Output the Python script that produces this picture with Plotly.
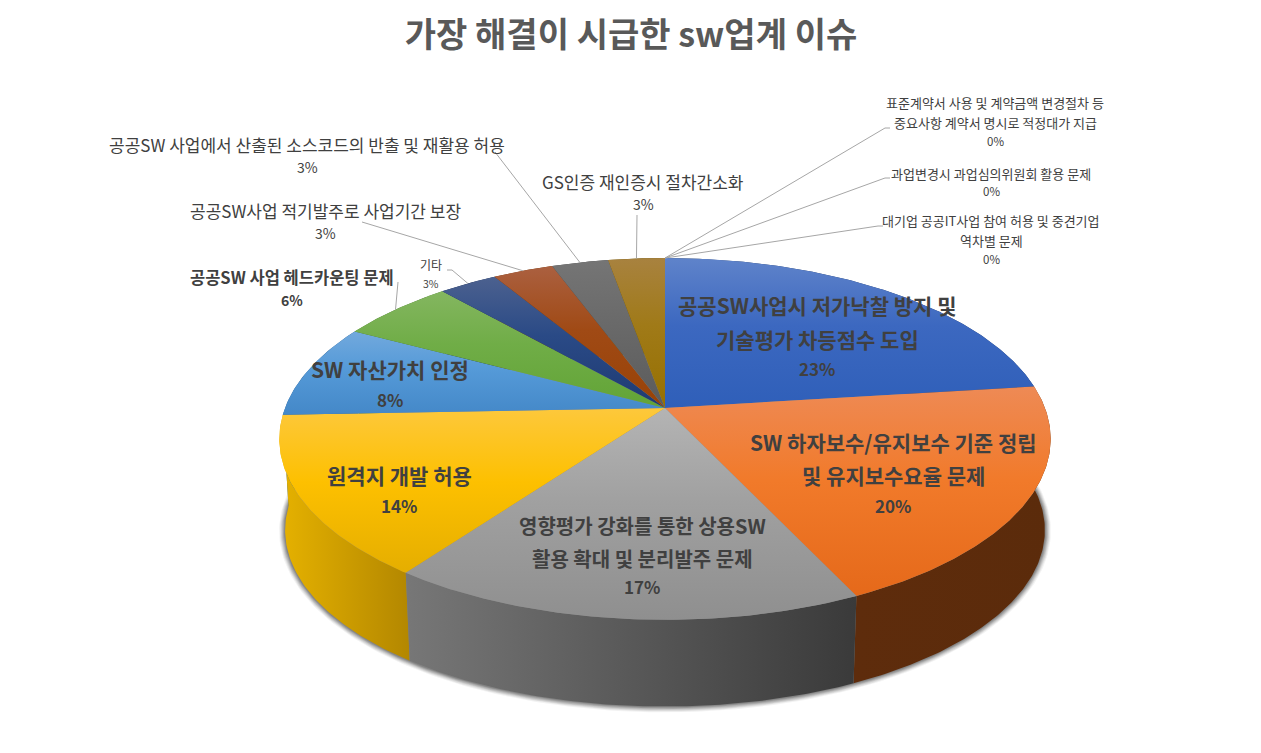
import numpy as np
import plotly.graph_objects as go

# ---------- data ----------
categories = [
    ["공공SW사업시 저가낙찰 방지 및", "기술평가 차등점수 도입"],
    ["SW 하자보수/유지보수 기준 정립", "및 유지보수요율 문제"],
    ["영향평가 강화를 통한 상용SW", "활용 확대 및 분리발주 문제"],
    ["원격지 개발 허용"],
    ["SW 자산가치 인정"],
    ["공공SW 사업 헤드카운팅 문제"],
    ["기타"],
    ["공공SW사업 적기발주로 사업기간 보장"],
    ["공공SW 사업에서 산출된 소스코드의 반출 및 재활용 허용"],
    ["GS인증 재인증시 절차간소화"],
    ["표준계약서 사용 및 계약금액 변경절차 등", "중요사항 계약서 명시로 적정대가 지급"],
    ["과업변경시 과업심의위원회 활용 문제"],
    ["대기업 공공IT사업 참여 허용 및 중견기업", "역차별 문제"],
]
values = [23.0, 20.0, 17.0, 14.4, 8.4, 5.7, 2.9, 3.0, 2.8, 2.8, 0.0, 0.0, 0.0]
title_text = "가장 해결이 시급한 sw업계 이슈"

# ---------- styles ----------
top_colors = [
    ["#5f83ca", "#3c68c0", "#2f5fb9"],
    ["#ee8a55", "#f17a2a", "#e5691a"],
    ["#b4b4b4", "#a0a0a0", "#8f8f8f"],
    ["#fdc83c", "#fdc000", "#e5ae00"],
    ["#72a9dd", "#559ad8", "#4488c8"],
    ["#84b660", "#70ad47", "#62a436"],
    ["#4c618f", "#2a4a86", "#1e3a72"],
    ["#ab6040", "#a04a15", "#984206"],
    ["#757575", "#696969", "#5b5b5b"],
    ["#a8823f", "#a07a18", "#967000"],
]
wall_colors = [
    ["#1f3864", "#1f3864"],
    ["#5e2c0c", "#5b2b0b"],
    ["#777777", "#3a3a3a"],
    ["#e6b200", "#b38700"],
    ["#2a5f8f", "#2a5f8f"],
    ["#3f6a28", "#3f6a28"],
    ["#14264e", "#14264e"],
    ["#6a3004", "#6a3004"],
    ["#404040", "#404040"],
    ["#6a5000", "#6a5000"],
]
label_styles = [
    dict(x=817, ys=[305, 339, 368], size=21, pct=17, bold=True),
    dict(x=893, ys=[442, 475, 505], size=21, pct=17, bold=True),
    dict(x=642, ys=[525, 558, 586], size=20, pct=17, bold=True),
    dict(x=399, ys=[475, 505], size=21, pct=17, bold=True),
    dict(x=390, ys=[369, 399], size=21, pct=17, bold=True),
    dict(x=292, ys=[277, 300], size=16.5, pct=14, bold=True),
    dict(x=431, ys=[264, 283], size=12, pct=10.5, bold=False),
    dict(x=325, ys=[210, 233], size=17, pct=14, bold=False),
    dict(x=307, ys=[144, 167], size=17, pct=14, bold=False),
    dict(x=643, ys=[181, 204], size=17, pct=14, bold=False),
    dict(x=995, ys=[102, 122, 141], size=13, pct=11.5, bold=False),
    dict(x=991, ys=[173, 191], size=13, pct=11.5, bold=False),
    dict(x=991, ys=[220, 240, 259], size=13, pct=11.5, bold=False),
]
# elbow points of the leader lines, by slice index
leader_starts = {
    5: [(398, 282)],
    6: [(447, 270), (452, 270)],
    7: [(362, 222)],
    8: [(495, 152)],
    9: [(637, 215)],
    10: [(890, 128), (885, 128)],
    11: [(890, 178), (885, 178)],
    12: [(883, 226), (878, 226)],
}
CX, CY, R, RS, K = 665.0, 408.0, 380.0, 175.6, 0.171
DEPTH, SHRINK = 92.0, 0.985
FONT = "Noto Sans CJK KR"


def project(frac):
    """Perspective pie position of a cumulative share (0-100, clockwise from 12 o'clock)."""
    th = np.asarray(frac) / 100.0 * 2 * np.pi
    u, v = np.sin(th), -np.cos(th)
    d = 1 - K * v
    return CX + R * u / d, CY + RS * v / d


def lower(x, y):
    return CX + SHRINK * (x - CX), CY + DEPTH + 0.975 * (y - CY)


fig = go.Figure()
cum = np.concatenate([[0.0], np.cumsum(values)])

# soft shadow under the pie
ring = np.linspace(0, 100, 361)
rx, ry = lower(*project(ring))
for grow, alpha in [(6, 0.05), (5, 0.07), (4, 0.09), (3, 0.11), (2, 0.13), (1, 0.15)]:
    fig.add_trace(go.Scatter(
        x=CX + (rx - CX) * (1 + grow / 380), y=CY + DEPTH + (ry - CY - DEPTH) * (1 + grow / 215),
        mode="lines", line=dict(width=0), fill="toself",
        fillcolor=f"rgba(0,0,0,{alpha})", hoverinfo="skip", showlegend=False))

# side walls, back to front
order = sorted(range(len(values)), key=lambda j: float(project((cum[j] + cum[j + 1]) / 2)[1]))
for i in order:
    val = values[i]
    if val <= 0:
        continue
    t = np.linspace(cum[i], cum[i + 1], max(int(val * 6), 4))
    xt, yt = project(t)
    xb, yb = lower(xt, yt)
    fig.add_trace(go.Scatter(
        x=np.concatenate([xt, xb[::-1], xt[:1]]), y=np.concatenate([yt, yb[::-1], yt[:1]]),
        mode="lines", line=dict(width=0), fill="toself",
        fillgradient=dict(type="horizontal",
                          colorscale=[[0, wall_colors[i][0]], [1, wall_colors[i][1]]]),
        hoverinfo="skip", showlegend=False))

# top faces
for i, val in enumerate(values):
    if val <= 0:
        continue
    t = np.linspace(cum[i], cum[i + 1], max(int(val * 6), 4))
    xt, yt = project(t)
    fig.add_trace(go.Scatter(
        x=np.concatenate([[CX], xt, [CX]]), y=np.concatenate([[CY], yt, [CY]]),
        mode="lines", line=dict(width=0), fill="toself",
        fillgradient=dict(type="vertical", colorscale=[
            [0, top_colors[i][2]], [0.55, top_colors[i][1]], [1, top_colors[i][0]]]),
        name=" ".join(categories[i]), hovertemplate="%{fullData.name}<extra></extra>",
        showlegend=False))

# leader lines
for i, pts in leader_starts.items():
    ex, ey = project((cum[i] + cum[i + 1]) / 2)
    xs = [p[0] for p in pts] + [float(ex)]
    ys = [p[1] for p in pts] + [float(ey)]
    fig.add_trace(go.Scatter(x=xs, y=ys, mode="lines",
                             line=dict(color="#a6a6a6", width=1),
                             hoverinfo="skip", showlegend=False))

# labels
annotations = []
for i, st in enumerate(label_styles):
    lines = categories[i] + [f"{round(values[i])}%"]
    for line, yy in zip(lines, st["ys"]):
        size = st["pct"] if line.endswith("%") else st["size"]
        annotations.append(dict(
            x=st["x"], y=yy, xref="x", yref="y", text=line, showarrow=False,
            xanchor="center", yanchor="middle",
            font=dict(family=FONT, size=size, color="#404040",
                      weight=700 if st["bold"] else 400)))

fig.update_layout(
    width=1261, height=753, margin=dict(l=0, r=0, t=0, b=0),
    paper_bgcolor="white", plot_bgcolor="white", showlegend=False,
    title=dict(text=title_text, x=631 / 1261, xanchor="center", y=1 - 35 / 753, yanchor="middle",
               font=dict(family=FONT, size=34, color="#595959", weight=700)),
    xaxis=dict(range=[0, 1261], visible=False, fixedrange=True),
    yaxis=dict(range=[753, 0], visible=False, fixedrange=True),
    annotations=annotations,
)
fig.write_html("out.html", config={"displayModeBar": False},
               post_script="document.body.style.margin='0';")
